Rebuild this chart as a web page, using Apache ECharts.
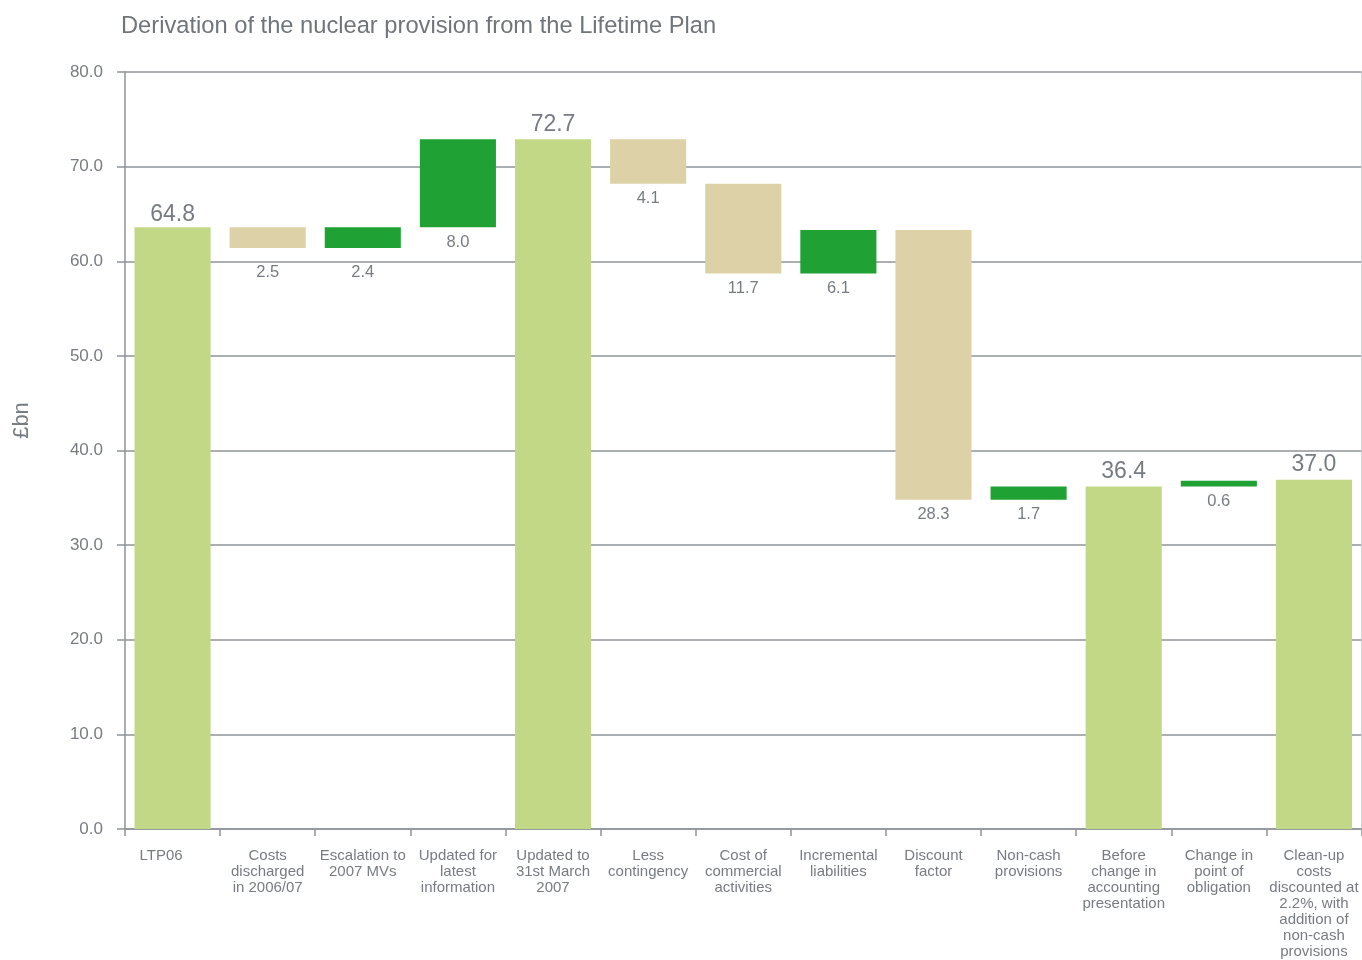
<!DOCTYPE html>
<html>
<head>
<meta charset="utf-8">
<script src="https://cdn.jsdelivr.net/npm/echarts@6/dist/echarts.min.js"></script>
<style>
html,body{margin:0;padding:0;background:#fff;}
#chart{width:1362px;height:960px;}
</style>
</head>
<body>
<div id="chart"></div>
<script>
const categories = [
  'LTP06',
  'Costs\ndischarged\nin 2006/07',
  'Escalation to\n2007 MVs',
  'Updated for\nlatest\ninformation',
  'Updated to\n31st March\n2007',
  'Less\ncontingency',
  'Cost of\ncommercial\nactivities',
  'Incremental\nliabilities',
  'Discount\nfactor',
  'Non-cash\nprovisions',
  'Before\nchange in\naccounting\npresentation',
  'Change in\npoint of\nobligation',
  'Clean-up\ncosts\ndiscounted at\n2.2%, with\naddition of\nnon-cash\nprovisions'
];
// bar extents as drawn in the picture
const barFrom = [0, 63.6, 61.4, 63.6, 0, 72.9, 68.2, 58.7, 63.3, 34.8, 0, 36.2, 0];
const barTo   = [63.6, 61.4, 63.6, 72.9, 72.9, 68.2, 58.7, 63.3, 34.8, 36.2, 36.2, 36.8, 36.9];
// printed value labels
const labelValues = ['64.8', '2.5', '2.4', '8.0', '72.7', '4.1', '11.7', '6.1', '28.3', '1.7', '36.4', '0.6', '37.0'];
const kinds = ['total', 'decrease', 'increase', 'increase', 'total', 'decrease', 'decrease', 'increase', 'decrease', 'increase', 'total', 'increase', 'total'];
const yTicks = [0, 10, 20, 30, 40, 50, 60, 70, 80];

const colors = { total: '#c2d886', decrease: '#ddd1a7', increase: '#1fa233' };
const textColor = '#777c82';
const lineColor = '#8f9499';
const FONT = "'Liberation Sans', Arial, sans-serif";

const baseData = barFrom.map((f, i) => Math.min(f, barTo[i]));
const valueData = barFrom.map((f, i) => {
  const k = kinds[i];
  const isTotal = k === 'total';
  return {
    value: Math.abs(barTo[i] - f),
    itemStyle: { color: colors[k] },
    label: {
      show: true,
      formatter: labelValues[i],
      position: isTotal ? 'top' : 'bottom',
      distance: isTotal ? (i === 0 ? 1 : 3) : ((i === 1 || i === 2) ? 15.5 : 6),
      fontSize: isTotal ? 23 : 16.5,
      lineHeight: isTotal ? 24 : 18,
      color: textColor,
      fontFamily: FONT
    }
  };
});

const chart = echarts.init(document.getElementById('chart'));
chart.setOption({
  animation: false,
  backgroundColor: '#ffffff',
  title: {
    text: 'Derivation of the nuclear provision from the Lifetime Plan',
    left: 121, top: 14, padding: 0,
    textStyle: { fontSize: 23.7, fontWeight: 'normal', color: '#6f757b', fontFamily: FONT }
  },
  grid: { left: 125, right: 0.5, top: 72, bottom: 127, containLabel: false },
  xAxis: {
    type: 'category',
    data: categories.map((c, i) => i === 0 ? { value: c, textStyle: { padding: [0, 23, 0, 0] } } : c),
    boundaryGap: true,
    axisLine: { lineStyle: { color: lineColor, width: 1.5 } },
    axisTick: { show: true, length: 7, lineStyle: { color: lineColor, width: 1.5 } },
    axisLabel: {
      interval: 0, margin: 19, fontSize: 15, lineHeight: 16,
      color: textColor, fontFamily: FONT, align: 'center'
    },
    splitLine: { show: false }
  },
  yAxis: [{
    type: 'value',
    min: yTicks[0], max: yTicks[yTicks.length - 1], interval: 10,
    name: '£bn', nameLocation: 'middle', nameRotate: 90, nameGap: 92,
    nameTextStyle: { fontSize: 22, color: textColor, fontFamily: FONT, padding: [0, 0, 0, 60] },
    axisLine: { show: true, lineStyle: { color: lineColor, width: 1.5 } },
    axisTick: { show: true, length: 8, lineStyle: { color: lineColor, width: 1.5 } },
    axisLabel: {
      margin: 22, fontSize: 17, color: textColor, fontFamily: FONT,
      formatter: v => v.toFixed(1)
    },
    splitLine: { show: true, lineStyle: { color: lineColor, width: 1.5 } }
  }, {
    type: 'value', position: 'right',
    min: yTicks[0], max: yTicks[yTicks.length - 1], interval: 10,
    axisLine: { show: true, lineStyle: { color: '#c4c7ca', width: 1.5 } },
    axisTick: { show: false }, axisLabel: { show: false }, splitLine: { show: false }
  }],
  series: [{
    type: 'bar', stack: 'w', barWidth: '80%',
    itemStyle: { color: 'transparent' },
    emphasis: { disabled: true },
    data: baseData
  }, {
    type: 'bar', stack: 'w', barWidth: '80%',
    emphasis: { disabled: true },
    data: valueData
  }]
});
</script>
</body>
</html>
